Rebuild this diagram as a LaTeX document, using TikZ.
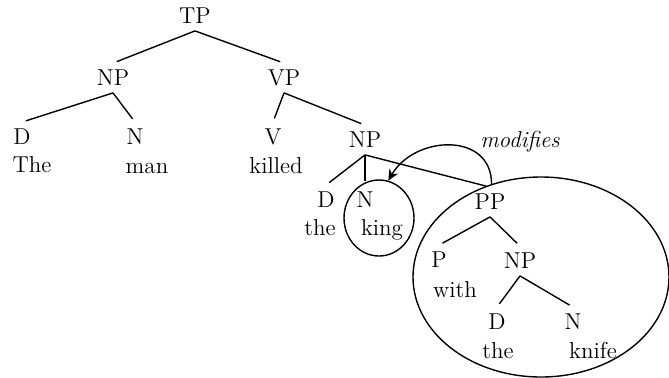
\documentclass[tikz,border=0pt]{standalone}
\usepackage{tikz}
\usetikzlibrary{arrows.meta,shapes.geometric}
\newcommand{\treefont}{\fontsize{11.5}{13}\selectfont}
\tikzset{
  cat/.style     = {inner sep=0pt, minimum height=14.5pt, font=\treefont},
  word/.style    = {anchor=base, inner sep=0pt, font=\treefont},
  branch/.style  = {line width=0.7pt, shorten >=2pt},
  ring/.style    = {draw, ellipse, line width=0.7pt, inner sep=0pt},
  modflow/.style = {-{Stealth[length=5.5pt,width=5pt]}, line width=0.7pt},
  note/.style    = {font=\treefont\itshape},
}

\begin{document}
\begin{tikzpicture}[x=0.5pt, y=-0.5pt]
  \useasboundingbox (0,0) rectangle (669,377);
  \node[ring, minimum width=35pt, minimum height=38pt] (kingring) at (379,218) {};
  \node[ring, minimum width=128pt, minimum height=100pt] (ppring) at (541,277) {};
  \node[cat] (tp)   at (195,16)  {TP};
  \node[cat] (np1)  at (113,78)  {NP};
  \node[cat] (vp)   at (284,78)  {VP};
  \node[cat] (d1)   at (22,137)  {D};
  \node[cat] (n1)   at (135,137) {N};
  \node[cat] (v)    at (273,137) {V};
  \node[cat] (np2)  at (365,140) {NP};
  \node[cat] (d2)   at (326,200) {D};
  \node[cat] (n2)   at (365,200) {N};
  \node[cat] (pp)   at (490,202) {PP};
  \node[cat] (p)    at (439,260) {P};
  \node[cat] (np3)  at (520,261) {NP};
  \node[cat] (d3)   at (497,322) {D};
  \node[cat] (n3)   at (573,322) {N};
  \node[word] (w1) at (32,172)  {The};
  \node[word] (w2) at (147,173) {man};
  \node[word] (w3) at (276,173) {killed};
  \node[word] (w4) at (320,235) {the};
  \node[word] (w5) at (382,235) {king};
  \node[word] (w6) at (455,297) {with};
  \node[word] (w7) at (498,358) {the};
  \node[word] (w8) at (593,358) {knife};
  \draw[branch] (tp.south) -- (np1.north);
  \draw[branch] (tp.south) -- (vp.north);
  \draw[branch] (np1.south) -- (d1.north);
  \draw[branch] (np1.south) -- (n1.north);
  \draw[branch] (vp.south) -- (v.north);
  \draw[branch] (vp.south) -- (np2.north);
  \draw[branch] (np2.south) -- (d2.north);
  \draw[branch] (np2.south) -- (n2.north);
  \draw[branch] (np2.south) -- (pp.north);
  \draw[branch] (pp.south) -- (p.north);
  \draw[branch] (pp.south) -- (np3.north);
  \draw[branch] (np3.south) -- (d3.north);
  \draw[branch] (np3.south) -- (n3.north);
  \draw[modflow] (ppring.118) to[out=90, in=60, looseness=1.3] (kingring.76);
  \node[note] (mod) at (520,142) {modifies};
\end{tikzpicture}
\end{document}
